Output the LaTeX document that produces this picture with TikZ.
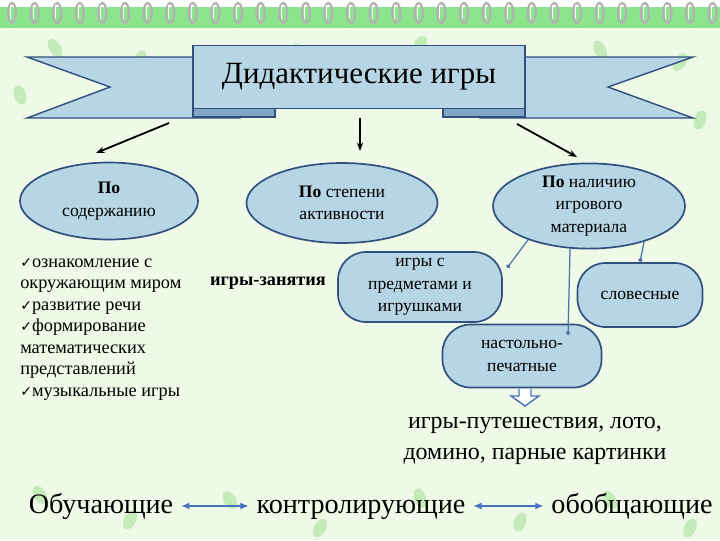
\documentclass[tikz,border=0pt]{standalone}
\usepackage{fontspec}
\setmainfont{Liberation Serif}
\newfontfamily\symfont{DejaVu Sans}
\definecolor{pagegreen}{RGB}{238, 249, 232}
\definecolor{bandgreen}{RGB}{140, 228, 140}
\definecolor{leafgreen}{RGB}{150, 220, 130}
\definecolor{ribbonblue}{RGB}{182, 214, 230}
\definecolor{folddark}{RGB}{128, 166, 196}
\definecolor{edgeblue}{RGB}{50, 80, 125}
\definecolor{linkblue}{RGB}{80, 115, 160}
\definecolor{arrowblue}{RGB}{70, 115, 190}
\usetikzlibrary{shapes, arrows.meta, positioning, calc}
\tikzset{
  kind/.style={ellipse, draw=edgeblue, line width=1.2pt, fill=ribbonblue, inner sep=0pt, align=center, font=\fontsize{12.5}{16}\selectfont},
  sortbox/.style={rectangle, rounded corners=0.7cm, draw=edgeblue, line width=1.2pt, fill=ribbonblue, inner sep=0pt, align=center, font=\fontsize{12.5}{16}\selectfont},
  link/.style={linkblue, line width=0.9pt, -{Circle[length=3pt]}},
  downarrow/.style={-{Stealth[length=6pt]}, line width=1.3pt, black},
  pairarrow/.style={{Latex[length=6pt,width=5pt]}-{Latex[length=6pt,width=5pt]}, arrowblue, line width=1.8pt, shorten <=2pt, shorten >=2pt},
  purpose/.style={anchor=base, font=\fontsize{20}{24}\selectfont},
  leaf/.style={fill=leafgreen, opacity=0.45, draw=none}
}
\newcommand{\chk}{{\symfont\fontsize{10}{10}\selectfont ✓}}

\begin{document}
\begin{tikzpicture}[x=0.025cm, y=-0.025cm]
  % page
  \fill[pagegreen] (0,0) rectangle (720,540);
  \useasboundingbox (0,0) rectangle (720,540);
  \fill[white] (0,0) rectangle (720,7);
  \fill[bandgreen] (0,7) rectangle (720,28);
  \foreach \k in {0,...,31} {
    \draw[gray!60, line width=1.6pt] (12+\k*22.6,13) ellipse [x radius=4, y radius=10];
    \draw[white, line width=0.7pt] (10.5+\k*22.6,5) -- (10.5+\k*22.6,19);
  }
  % leaves
  \foreach \lx/\ly/\rot in {55/48/30, 140/60/-20, 300/52/40, 420/45/-30, 600/50/25, 680/62/-35, 20/95/20, 700/120/-20,
                            40/495/30, 130/520/-25, 230/500/35, 320/528/-30, 420/498/20, 520/522/-20, 610/500/30, 690/528/-25} {
    \fill[leaf, rotate around={\rot:(\lx,\ly)}] (\lx,\ly) ellipse [x radius=6, y radius=10];
  }

  % ribbon
  \filldraw[fill=ribbonblue, draw=edgeblue, line width=1pt] (27,57) -- (240,57) -- (240,118) -- (27,118) -- (110,87) -- cycle;
  \filldraw[fill=ribbonblue, draw=edgeblue, line width=1pt] (693,57) -- (480,57) -- (480,118) -- (693,118) -- (608,87) -- cycle;
  \filldraw[fill=folddark, draw=edgeblue, line width=1pt] (193,104) rectangle (275,117);
  \filldraw[fill=folddark, draw=edgeblue, line width=1pt] (443,104) rectangle (525,117);
  \node[draw=edgeblue, line width=1pt, fill=ribbonblue, minimum width=332*0.025cm, minimum height=63*0.025cm, font=\fontsize{22}{26}\selectfont] (title) at (359,77) {Дидактические игры};

  % top arrows
  \coordinate (s1) at (169,123);
  \coordinate (e1) at (96,153);
  \coordinate (s2) at (360,118);
  \coordinate (e2) at (360,151);
  \coordinate (s3) at (517,124);
  \coordinate (e3) at (577,157);
  \draw[downarrow] (s1) -- (e1);
  \draw[downarrow] (s2) -- (e2);
  \draw[downarrow] (s3) -- (e3);

  % kinds
  \node[kind, minimum width=178*0.025cm, minimum height=77*0.025cm] (content) at (109,201) {\textbf{По}\\содержанию};
  \node[kind, minimum width=191*0.025cm, minimum height=80*0.025cm] (activity) at (342,203) {\textbf{По} степени\\активности};
  \node[kind, minimum width=192*0.025cm, minimum height=82*0.025cm] (material) at (589,206) {\textbf{По} наличию\\игрового\\материала};

  % by content
  \node[anchor=north west, align=left, inner sep=0pt, font=\fontsize{13}{15.3}\selectfont] (topics) at (20,258)
    {\chk ознакомление с\\окружающим миром\\\chk развитие речи\\\chk формирование\\математических\\представлений\\\chk музыкальные игры};

  % by activity
  \node[font=\bfseries\fontsize{13}{16}\selectfont] (lessons) at (268,283) {игры-занятия};

  % by material
  \node[sortbox, minimum width=164*0.025cm, minimum height=70*0.025cm] (objects) at (420,287) {игры с\\предметами и\\игрушками};
  \node[sortbox, minimum width=125*0.025cm, minimum height=64*0.025cm] (verbal) at (640,295) {словесные};
  \node[sortbox, minimum width=159*0.025cm, minimum height=63*0.025cm] (board) at (522,356) {настольно-\\печатные};
  \coordinate (p1) at (507,268);
  \coordinate (p2) at (568,335);
  \draw[link] (material.209) -- (p1);
  \draw[link] (material.246) -- (p2);
  \draw[link] (material.327) -- (verbal.north);

  % hollow arrow under board games
  \filldraw[fill=white, draw=arrowblue, line width=1pt] (519,389) -- (519,396) -- (511,396) -- (525,406) -- (539,396) -- (531,396) -- (531,389);
  \node[align=center, font=\fontsize{17}{21.5}\selectfont] (examples) at (535,441) {игры-путешествия, лото,\\домино, парные картинки};

  % functions
  \node[purpose] (teach) at (101,513) {Обучающие};
  \node[purpose] (control) at (361,513) {контролирующие};
  \node[purpose] (general) at (632,513) {обобщающие};
  \draw[pairarrow] ([yshift=5pt]teach.base east) -- ([yshift=5pt]control.base west);
  \draw[pairarrow] ([yshift=5pt]control.base east) -- ([yshift=5pt]general.base west);
\end{tikzpicture}
\end{document}
